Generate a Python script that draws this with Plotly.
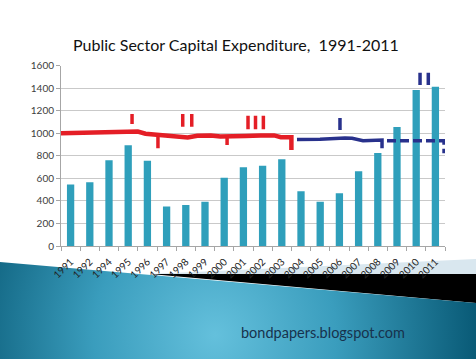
import base64
import plotly.graph_objects as go

# ---- data ----
years = ["1991", "1992", "1994", "1995", "1996", "1997", "1998", "1999", "2000", "2001",
         "2002", "2003", "2004", "2005", "2006", "2007", "2008", "2009", "2010", "2011"]
capex = [545, 565, 760, 893, 755, 350, 363, 393, 606, 698,
         712, 769, 485, 393, 467, 662, 824, 1055, 1383, 1412]

# hand-drawn red trend line (position in category units, value)
red_pos = [-0.5, 0.5, 1.5, 2.5, 3.1, 3.5, 3.9, 4.6, 5.2, 5.7, 6.1, 6.6, 7.3, 7.8, 8.4, 9.1, 9.9, 10.6, 10.95, 11.5, 11.5]
red_val = [1000, 1005, 1008, 1012, 1018, 1015, 995, 985, 975, 962, 962, 978, 980, 970, 968, 975, 980, 980, 965, 965, 851]
red_tick_pos = [3.2, 4.55, 5.84, 6.31, 8.15, 9.24, 9.63, 10.04]
red_tick_low = [1082, 866, 1058, 1058, 895, 1034, 1034, 1034]
red_tick_high = [1170, 985, 1170, 1170, 968, 1155, 1155, 1155]

# hand-drawn blue line (solid part, then dashed part)
blue_pos = [11.79, 12.99, 14.29, 14.66, 15.23, 15.75, 16.0, 16.22, 16.22]
blue_val = [945, 947, 958, 955, 933, 940, 936, 940, 866]
blue_dash_pos = [16.48, 19.45, 19.45]
blue_dash_val = [933, 933, 822]
blue_tick_pos = [14.03, 18.2, 18.63]
blue_tick_low = [1028, 1427, 1427]
blue_tick_high = [1135, 1536, 1536]

yticks = [0, 200, 400, 600, 800, 1000, 1200, 1400, 1600]

W, H = 476, 359
L, R, T, B = 61, 445, 65.5, 246

RED = "#e41e26"
BLUE = "#28318c"
BAR = "#2f9fbb"


def segments(pos, lo, hi):
    xs, ys = [], []
    for p, a, b in zip(pos, lo, hi):
        xs += [p, p, None]
        ys += [a, b, None]
    return xs, ys


# ---- slide background (decoration) ----
svg = f'''<svg xmlns="http://www.w3.org/2000/svg" width="{W}" height="{H}" viewBox="0 0 {W} {H}">
<defs>
<radialGradient id="g" cx="215" cy="335" r="270" gradientUnits="userSpaceOnUse">
<stop offset="0" stop-color="#64c0dc"/>
<stop offset="0.45" stop-color="#3a9dbd"/>
<stop offset="1" stop-color="#065672"/>
</radialGradient>
</defs>
<rect width="{W}" height="{H}" fill="#ffffff"/>
<polygon points="150,274 476,259 476,274" fill="#d9e7ef"/>
<polygon points="150,274 476,274 476,303" fill="#000000"/>
<polygon points="0,262 476,303 476,359 0,359" fill="url(#g)"/>
</svg>'''
src = "data:image/svg+xml;base64," + base64.b64encode(svg.encode()).decode()

fig = go.Figure()

fig.add_trace(go.Bar(x=list(range(len(years))), y=capex, marker_color=BAR,
                     marker_line_width=0, width=0.38, showlegend=False))

fig.add_trace(go.Scatter(x=red_pos, y=red_val, mode="lines",
                         line=dict(color=RED, width=4.5), showlegend=False))
tx, ty = segments(red_tick_pos, red_tick_low, red_tick_high)
fig.add_trace(go.Scatter(x=tx, y=ty, mode="lines",
                         line=dict(color=RED, width=3.5), showlegend=False))

fig.add_trace(go.Scatter(x=blue_pos, y=blue_val, mode="lines",
                         line=dict(color=BLUE, width=3.5), showlegend=False))
fig.add_trace(go.Scatter(x=blue_dash_pos, y=blue_dash_val, mode="lines",
                         line=dict(color=BLUE, width=3.5, dash="9px,4px"), showlegend=False))
bx, by = segments(blue_tick_pos, blue_tick_low, blue_tick_high)
fig.add_trace(go.Scatter(x=bx, y=by, mode="lines",
                         line=dict(color=BLUE, width=3.5), showlegend=False))

fig.update_layout(
    width=W, height=H,
    margin=dict(l=0, r=0, t=0, b=0),
    paper_bgcolor="white",
    plot_bgcolor="rgba(0,0,0,0)",
    font=dict(family="Lato", color="#333333"),
    images=[dict(source=src, xref="paper", yref="paper", x=0, y=1,
                 sizex=1, sizey=1, xanchor="left", yanchor="top",
                 sizing="stretch", layer="below")],
    xaxis=dict(
        domain=[L / W, R / W],
        range=[-0.5, len(years) - 0.5],
        tickmode="array",
        tickvals=list(range(len(years))),
        ticktext=years,
        tickangle=-45,
        ticks="",
        ticklabelstandoff=5,
        showgrid=False,
        zeroline=False,
        showline=True, linecolor="#a6a6a6", linewidth=1,
        tickfont=dict(size=10, color="#222222"),
        minor=dict(tickmode="array",
                   tickvals=[i - 0.5 for i in range(len(years) + 1)],
                   ticks="outside", ticklen=4, tickcolor="#a6a6a6", showgrid=False),
        automargin=False,
    ),
    yaxis=dict(
        domain=[1 - B / H, 1 - T / H],
        range=[0, 1600],
        tickmode="array",
        tickvals=yticks,
        showgrid=True, gridcolor="#c9c9c9", gridwidth=1,
        zeroline=False,
        showline=True, linecolor="#a6a6a6", linewidth=1,
        ticks="outside", ticklen=4, tickcolor="#a6a6a6",
        tickfont=dict(size=10, color="#404040"),
        automargin=False,
    ),
    annotations=[
        dict(text="Public Sector Capital Expenditure,  1991-2011",
             xref="paper", yref="paper", x=235.5 / W, y=1 - 44 / H,
             xanchor="center", yanchor="middle", showarrow=False,
             font=dict(family="Lato", size=16, color="#111111")),
        dict(text="bondpapers.blogspot.com",
             xref="paper", yref="paper", x=323 / W, y=1 - 332 / H,
             xanchor="center", yanchor="middle", showarrow=False,
             font=dict(family="Lato", size=14.5, color="#17324d")),
    ],
)

fig.write_html("out.html",
               config={"displayModeBar": False},
               post_script="document.body.style.margin='0';document.body.style.overflow='hidden';")
